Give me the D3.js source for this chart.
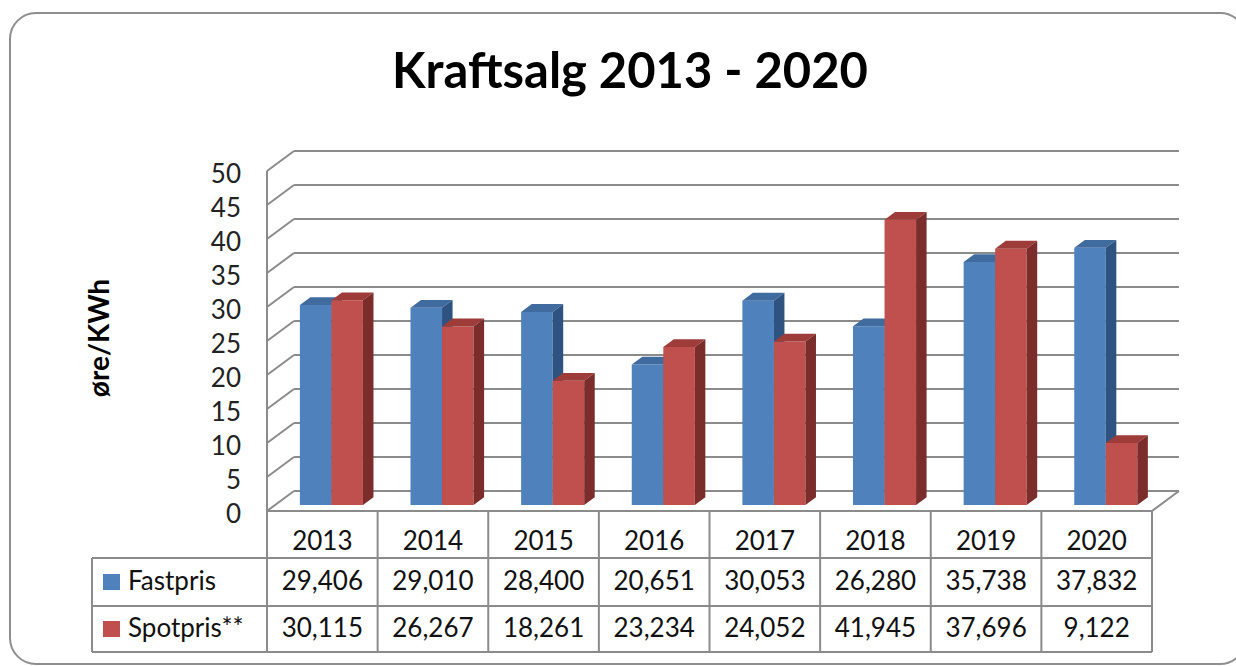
<!DOCTYPE html>
<html>
<head>
<meta charset="utf-8">
<script src="https://cdn.jsdelivr.net/npm/d3@7"></script>
<style>
  html, body { margin: 0; padding: 0; background: #fff; }
  svg { display: block; font-family: Lato, "Open Sans", sans-serif; }
</style>
</head>
<body>
<svg id="chart" width="1236" height="666"></svg>
<script>
// ---- data ----
const categories = ["2013", "2014", "2015", "2016", "2017", "2018", "2019", "2020"];
const seriesNames = ["Fastpris", "Spotpris**"];
const fastpris = [29.406, 29.010, 28.400, 20.651, 30.053, 26.280, 35.738, 37.832];
const spotpris = [30.115, 26.267, 18.261, 23.234, 24.052, 41.945, 37.696, 9.122];
const yTicks = [0, 5, 10, 15, 20, 25, 30, 35, 40, 45, 50];
const titleText = "Kraftsalg 2013 - 2020";
const yAxisTitle = "øre/KWh";

const seriesValues = [fastpris, spotpris];
const colors = [
  { front: "#4F81BD", top: "#3F6B9F", side: "#2F5381" },
  { front: "#C0504D", top: "#9E3C39", side: "#7A2D2B" }
];
const grid = "#8B8B8B";

const svg = d3.select("#chart");

// frame
svg.append("rect")
  .attr("x", 10).attr("y", 13).attr("width", 1236).attr("height", 651)
  .attr("rx", 26).attr("ry", 26)
  .attr("fill", "#fff").attr("stroke", "#8E8E8E").attr("stroke-width", 2);

// title
const title = svg.append("text")
  .attr("x", 630).attr("y", 88)
  .attr("text-anchor", "middle")
  .attr("font-weight", "bold")
  .attr("font-size", 49)
  .attr("fill", "#000")
  .text(titleText);
{
  const w = title.node().getComputedTextLength();
  if (w > 0) title.attr("font-size", 49 * 476 / w);
}

// ---- scales ----
const x = d3.scaleBand().domain(categories).range([267, 1152]).paddingInner(0).paddingOuter(0);
const y = d3.scaleLinear().domain([0, 50]).range([511, 171]);
const DX = 27, DY = -20;          // depth of the plot box
const proj = (px, v, z) => [px + z * DX, y(v) + z * DY];

// back wall gridlines + left wall diagonals
const gGrid = svg.append("g").attr("stroke", grid).attr("stroke-width", 2).attr("fill", "none");
yTicks.forEach(v => {
  const [bx0, by] = proj(x.range()[0], v, 1);
  const [bx1] = proj(x.range()[1], v, 1);
  gGrid.append("line").attr("x1", bx0).attr("y1", by).attr("x2", bx1).attr("y2", by);
  const [fx, fy] = proj(x.range()[0], v, 0);
  gGrid.append("line").attr("x1", fx).attr("y1", fy).attr("x2", bx0).attr("y2", by);
});
// left front vertical edge (continues into table)
gGrid.append("line").attr("x1", 267).attr("y1", y(50)).attr("x2", 267).attr("y2", 652);
// floor right edge
{
  const [fx, fy] = proj(x.range()[1], 0, 0);
  const [bx, by] = proj(x.range()[1], 0, 1);
  gGrid.append("line").attr("x1", fx).attr("y1", fy).attr("x2", bx).attr("y2", by);
}

// y tick labels
svg.append("g").selectAll("text").data(yTicks).join("text")
  .attr("x", 241).attr("y", d => y(d) + 3)
  .attr("dy", "0.36em")
  .attr("text-anchor", "end")
  .attr("font-size", 26)
  .attr("fill", "#222")
  .text(d => d);

// y axis title
const yt = svg.append("text")
  .attr("transform", "translate(109,338) rotate(-90)")
  .attr("text-anchor", "middle")
  .attr("font-weight", "bold")
  .attr("font-size", 26)
  .attr("fill", "#000")
  .text(yAxisTitle);
{
  const w = yt.node().getComputedTextLength();
  if (w > 0) yt.attr("font-size", Math.min(28, 26 * 119 / w));
}

// ---- bars ----
const groupW = x.bandwidth() * 0.57;
const xs = d3.scaleBand().domain(d3.range(seriesValues.length)).range([0, groupW]).paddingInner(0);
const z0 = 0.3, zd = 0.39;
const gBars = svg.append("g");
categories.forEach((c, i) => {
  const gx = x(c) + (x.bandwidth() - groupW) / 2 + 1;
  seriesValues.forEach((vals, s) => {
    const v = vals[i];
    const xl = gx + xs(s), xr = xl + xs.bandwidth();
    const p = (px, vv, z) => proj(px, vv, z).join(",");
    const col = colors[s];
    // front
    gBars.append("polygon")
      .attr("points", [p(xl, 0, z0), p(xr, 0, z0), p(xr, v, z0), p(xl, v, z0)].join(" "))
      .attr("fill", col.front);
    // top
    gBars.append("polygon")
      .attr("points", [p(xl, v, z0), p(xr, v, z0), p(xr, v, z0 + zd), p(xl, v, z0 + zd)].join(" "))
      .attr("fill", col.top);
    // side
    gBars.append("polygon")
      .attr("points", [p(xr, 0, z0), p(xr, 0, z0 + zd), p(xr, v, z0 + zd), p(xr, v, z0)].join(" "))
      .attr("fill", col.side);
  });
});

// ---- data table ----
const rowY = [511, 558, 606, 652];
const gT = svg.append("g").attr("stroke", grid).attr("stroke-width", 2);
gT.append("line").attr("x1", 267).attr("x2", 1152).attr("y1", rowY[0]).attr("y2", rowY[0]);
[1, 2, 3].forEach(r => gT.append("line").attr("x1", 92).attr("x2", 1152).attr("y1", rowY[r]).attr("y2", rowY[r]));
categories.forEach(c => {
  gT.append("line").attr("x1", x(c) + x.bandwidth()).attr("x2", x(c) + x.bandwidth()).attr("y1", rowY[0]).attr("y2", rowY[3]);
});
gT.append("line").attr("x1", 92).attr("x2", 92).attr("y1", rowY[1]).attr("y2", rowY[3]);

const fmt = v => d3.format(".3f")(v).replace(".", ",");
const gTxt = svg.append("g").attr("font-size", 26).attr("fill", "#111").attr("text-anchor", "middle");
categories.forEach((c, i) => {
  const cx = x(c) + x.bandwidth() / 2;
  gTxt.append("text").attr("x", cx).attr("y", 550).text(c);
  gTxt.append("text").attr("x", cx).attr("y", 590).text(fmt(fastpris[i]));
  gTxt.append("text").attr("x", cx).attr("y", 637).text(fmt(spotpris[i]));
});
// legend cells
const legY = [574, 621];
seriesNames.forEach((n, s) => {
  svg.append("rect").attr("x", 103).attr("y", legY[s]).attr("width", 17).attr("height", 16).attr("fill", colors[s].front);
  svg.append("text").attr("x", 128).attr("y", s === 0 ? 590 : 637).attr("font-size", 26).attr("fill", "#111").text(n);
});
</script>
</body>
</html>
